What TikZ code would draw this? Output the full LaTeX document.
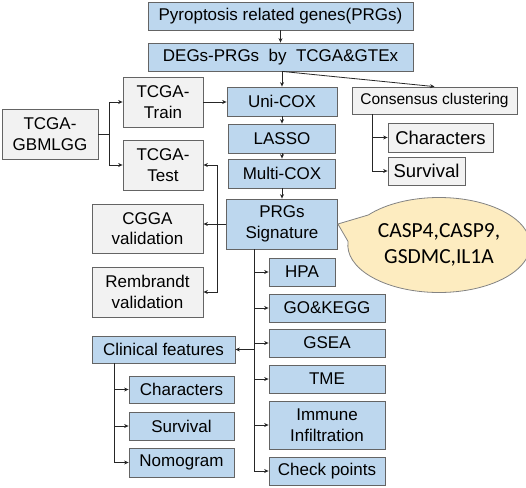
\documentclass[tikz,border=0pt]{standalone}
\usepackage{fontspec}
\setmainfont{Liberation Sans}
\newfontfamily\calloutfont{Carlito}
\usepackage{tikz}
\definecolor{bb}{RGB}{189, 215, 238}
\definecolor{gg}{RGB}{242, 242, 242}
\definecolor{yy}{RGB}{253, 236, 192}
\definecolor{ll}{RGB}{100, 100, 100}
\usetikzlibrary{arrows.meta}
\usetikzlibrary{shapes.callouts}

\begin{document}
\begin{tikzpicture}[
  bluebox/.style={rectangle, fill=bb, draw=ll, line width=0.8pt, inner sep=0pt, align=center, font=\fontsize{17}{20.5}\selectfont},
  greybox/.style={bluebox, fill=gg},
  link/.style={line width=0.8pt, color=black!85, -{Stealth[length=4.5pt, width=4pt]}}]
\useasboundingbox (0pt, 0pt) rectangle (526pt, -487pt);
\node (prg) [bluebox, minimum width=265pt, minimum height=28pt] at (280.5pt, -16.0pt) {Pyroptosis related genes(PRGs)};
\node (deg) [bluebox, minimum width=265pt, minimum height=28pt] at (280.5pt, -57.0pt) {DEGs-PRGs\ \ by\ \ TCGA\&GTEx};
\node (unicox) [bluebox, minimum width=110pt, minimum height=29pt] at (282.0pt, -101.5pt) {Uni-COX};
\node (lasso) [bluebox, minimum width=107pt, minimum height=29pt] at (282.0pt, -138.5pt) {LASSO};
\node (multicox) [bluebox, minimum width=107pt, minimum height=29pt] at (282.0pt, -173.5pt) {Multi-COX};
\node (sig) [bluebox, minimum width=111pt, minimum height=50pt] at (282.0pt, -224.0pt) {PRGs\\Signature};
\node (gbmlgg) [greybox, minimum width=96pt, minimum height=50pt] at (50.0pt, -134.0pt) {TCGA-\\GBMLGG};
\node (train) [greybox, minimum width=80pt, minimum height=50pt] at (163.0pt, -102.0pt) {TCGA-\\Train};
\node (test) [greybox, minimum width=80pt, minimum height=50pt] at (163.0pt, -165.0pt) {TCGA-\\Test};
\node (cgga) [greybox, minimum width=111pt, minimum height=49pt] at (147.5pt, -228.5pt) {CGGA\\validation};
\node (rembrandt) [greybox, minimum width=111pt, minimum height=50pt] at (147.5pt, -292.0pt) {Rembrandt\\validation};
\node (consensus) [greybox, minimum width=165pt, minimum height=27pt, font=\fontsize{15.5}{18}\selectfont] at (434.5pt, -100.5pt) {Consensus clustering};
\node (char1) [greybox, minimum width=105pt, minimum height=29pt, font=\fontsize{18.5}{22}\selectfont] at (440.5pt, -137.5pt) {Characters};
\node (surv1) [greybox, minimum width=77pt, minimum height=28pt, font=\fontsize{18.5}{22}\selectfont] at (426.5pt, -171.0pt) {Survival};
\node (hpa) [bluebox, minimum width=66pt, minimum height=28pt] at (302.0pt, -272.0pt) {HPA};
\node (gokegg) [bluebox, minimum width=116pt, minimum height=28pt] at (327.0pt, -308.0pt) {GO\&KEGG};
\node (gsea) [bluebox, minimum width=116pt, minimum height=28pt] at (327.0pt, -343.0pt) {GSEA};
\node (tme) [bluebox, minimum width=116pt, minimum height=28pt] at (327.0pt, -379.0pt) {TME};
\node (immune) [bluebox, minimum width=116pt, minimum height=48pt] at (327.0pt, -425.0pt) {Immune\\Infiltration};
\node (check) [bluebox, minimum width=116pt, minimum height=28pt] at (327.0pt, -471.0pt) {Check points};
\node (clinical) [bluebox, minimum width=143pt, minimum height=27pt] at (163.5pt, -349.5pt) {Clinical features};
\node (char2) [bluebox, minimum width=105pt, minimum height=27pt] at (181.5pt, -389.5pt) {Characters};
\node (surv2) [bluebox, minimum width=105pt, minimum height=28pt] at (181.5pt, -426.0pt) {Survival};
\node (nomo) [bluebox, minimum width=105pt, minimum height=29pt] at (181.5pt, -462.5pt) {Nomogram};
\node (genes) [ellipse callout, fill=yy, draw=ll!80, line width=0.8pt, minimum width=172pt, minimum height=95pt, callout absolute pointer={(sig.east)}, callout pointer arc=35, align=center, font=\calloutfont\fontsize{21.5}{26.5}\selectfont] at (439.0pt, -245.0pt) {CASP4,CASP9,\\GSDMC,IL1A};
\coordinate (vsplit) at (217.0pt, -224.0pt);
\coordinate (spine) at (254.0pt, -249.0pt);
\coordinate (cspine) at (114.0pt, -363.0pt);
\coordinate (kspine) at (372.0pt, -114.0pt);
\draw [link] (prg) to (deg);
\draw [link] (unicox |- deg.south) to (unicox);
\draw [link] (unicox |- deg.south) to (consensus.north);
\draw [link] (gbmlgg.east) -- ++(11pt, 0pt) |- (train.west);
\draw [link] (gbmlgg.east) -- ++(11pt, 0pt) |- (test.west);
\draw [link] (train.east) -- (train.east -| unicox.west);
\draw [link] (unicox) to (lasso);
\draw [link] (lasso) to (multicox);
\draw [link] (multicox) to (sig);
\draw [link] (sig.west) -- (sig.west -| cgga.east);
\draw [link] (vsplit) |- (test.east);
\draw [link] (vsplit) |- (rembrandt.east);
\draw [link] (kspine) |- (char1.west);
\draw [link] (kspine) |- (surv1.west);
\draw [link] (spine) |- (hpa.west);
\draw [link] (spine) |- (gokegg.west);
\draw [link] (spine) |- (gsea.west);
\draw [link] (spine) |- (tme.west);
\draw [link] (spine) |- (immune.west);
\draw [link] (spine) |- (check.west);
\draw [link] (spine |- clinical.east) -- (clinical.east);
\draw [link] (cspine) |- (char2.west);
\draw [link] (cspine) |- (surv2.west);
\draw [link] (cspine) |- (nomo.west);
\end{tikzpicture}
\end{document}
